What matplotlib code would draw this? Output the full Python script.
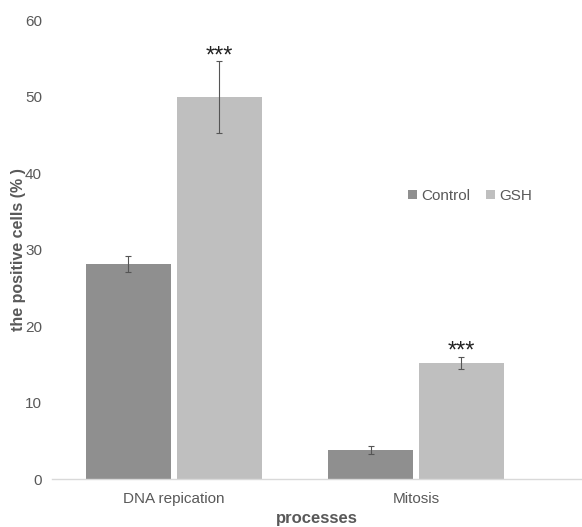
import numpy as np
import matplotlib
matplotlib.use("Agg")
import matplotlib.pyplot as plt

categories = ["DNA repication", "Mitosis"]
control = [28.1, 3.8]
control_err = [1.0, 0.5]
gsh = [49.9, 15.2]
gsh_err = [4.7, 0.8]
stars = ["***", "***"]
yticks = [0, 10, 20, 30, 40, 50, 60]

plt.rcParams['font.family'] = ['Liberation Sans', 'DejaVu Sans']

fig = plt.figure(figsize=(5.82, 5.27), dpi=100)
ax = fig.add_axes([0.089, 0.091, 0.911, 0.871])

x = np.arange(len(categories))
w = 0.35
off = 0.1875
grey_txt = "#595959"

ax.bar(x - off, control, w, color="#8f8f8f", label="Control", zorder=2)
ax.bar(x + off, gsh, w, color="#bfbfbf", label="GSH", zorder=2)
ax.errorbar(x - off, control, yerr=control_err, fmt="none", ecolor="#555555",
            elinewidth=0.8, capsize=2.5, capthick=0.8, zorder=3)
ax.errorbar(x + off, gsh, yerr=gsh_err, fmt="none", ecolor="#555555",
            elinewidth=0.8, capsize=2.5, capthick=0.8, zorder=3)

# significance marks sit right on top of the error bar caps
for xi, v, e, s in zip(x + off, gsh, gsh_err, stars):
    ax.text(xi, v + e - 0.1, s, ha="center", va="baseline", fontsize=17,
            color="#222222")

ax.set_xlim(-0.504, 1.686)
ax.set_ylim(0, 60)
ax.set_yticks(yticks)
ax.set_xticks(x)
ax.set_xticklabels(categories)
ax.tick_params(axis="both", length=0, labelsize=11, labelcolor=grey_txt, pad=7)
ax.tick_params(axis="x", pad=9)

for sp in ["top", "right", "left"]:
    ax.spines[sp].set_visible(False)
ax.spines["bottom"].set_color("#d9d9d9")
ax.spines["bottom"].set_linewidth(1.0)

ax.set_ylabel("the positive cells (% )", fontsize=11.5, fontweight="bold",
              color=grey_txt, labelpad=-1)
ax.set_xlabel("processes", fontsize=12, fontweight="bold", color=grey_txt,
              labelpad=4)

leg = ax.legend(loc="center", bbox_to_anchor=(0.789, 0.617), ncol=2, frameon=False,
                fontsize=11, handlelength=0.6, handleheight=0.6,
                handletextpad=0.3, columnspacing=1.0)
for t in leg.get_texts():
    t.set_color(grey_txt)

fig.savefig("out.png", dpi=100)
